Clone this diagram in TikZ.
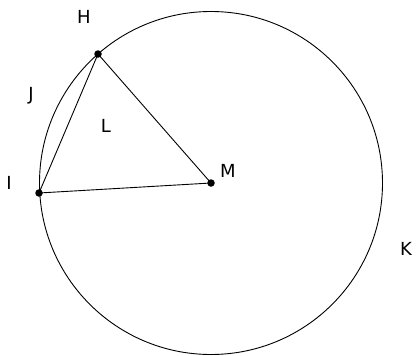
\documentclass[tikz,border=0pt]{standalone}
\usepackage{fontspec}
\setmainfont{DejaVu Sans}
\usetikzlibrary{calc}

\begin{document}
\begin{tikzpicture}[x=1pt,y=-1pt,
    dot/.style={circle,fill=black,inner sep=0pt,minimum size=7.5pt},
    lbl/.style={font=\fontsize{18}{21}\selectfont,inner sep=0pt}]
    % Fix the frame
    \useasboundingbox (0,0) rectangle (416,356);

    % Points
    \node[dot] (M) at (211,183) {};
    \node[dot] (H) at (98,54) {};
    \node[dot] (I) at (39,193) {};

    % Circle
    \draw[line width=0.9pt] (M.center) circle (171.5);

    % Lines
    \draw[line width=0.9pt] (H.center) -- (I.center);
    \draw[line width=0.9pt] (H.center) -- (M.center);
    \draw[line width=0.9pt] (I.center) -- (M.center);

    % Add labels
    \node[lbl] (labelH) at (84,17) {H};
    \node[lbl] (labelJ) at (31,96) {J};
    \node[lbl] (labelL) at (106,126) {L};
    \node[lbl] (labelI) at (9,183) {I};
    \node[lbl] (labelM) at (228,171) {M};
    \node[lbl] (labelK) at (406,249) {K};
\end{tikzpicture}
\end{document}
